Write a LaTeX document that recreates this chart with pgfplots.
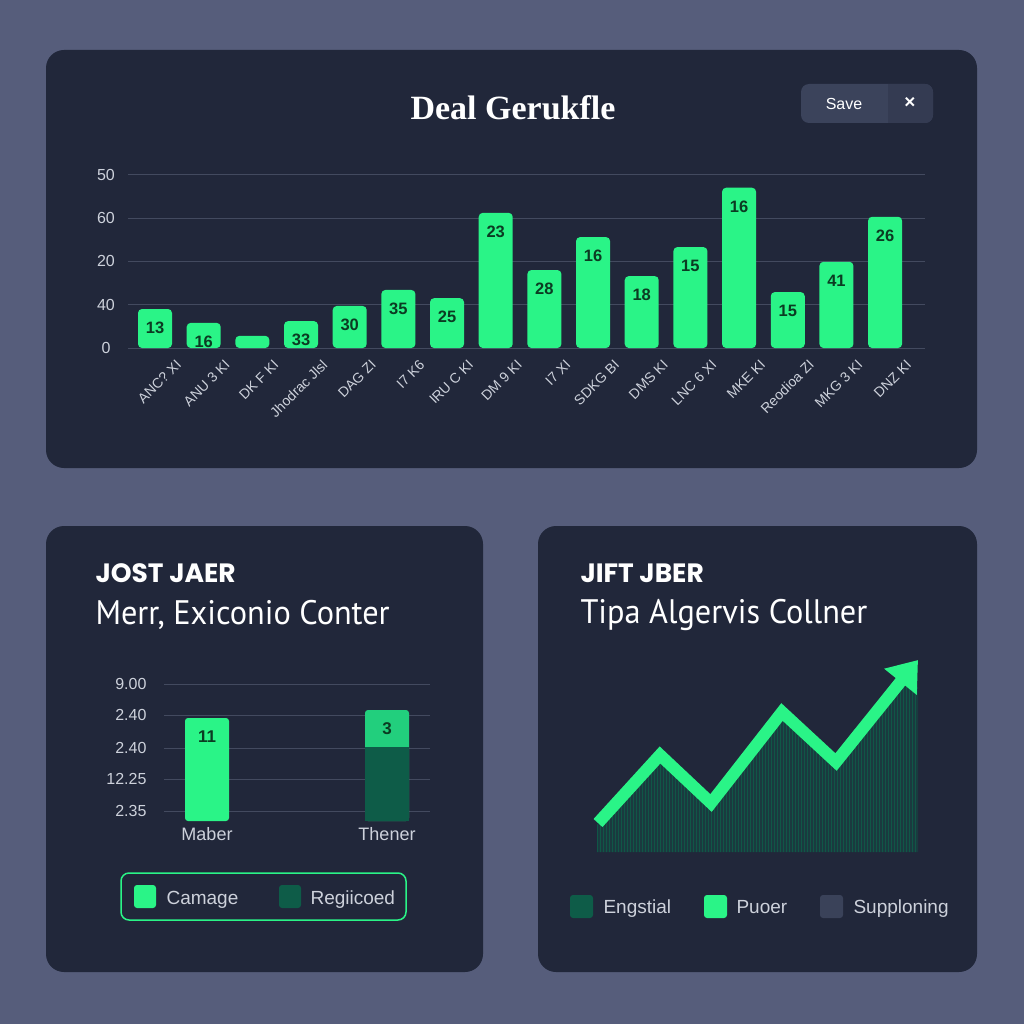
\documentclass[border=0pt]{standalone}
\usepackage{pgfplots}
\pgfplotsset{compat=1.18}
\usepackage{fontspec}
\setmainfont{Liberation Sans}
\newfontfamily\titlefont{Liberation Serif}
\newfontfamily\headfont{Poppins}
\newfontfamily\condfont{PT Sans}[FakeStretch=0.95]
\usetikzlibrary{arrows.meta,patterns}
\definecolor{bgc}{HTML}{565D7B}
\definecolor{panel}{HTML}{21273A}
\definecolor{gridc}{HTML}{434A5F}
\definecolor{grn}{HTML}{2AF487}
\definecolor{grnmid}{HTML}{22CF7D}
\definecolor{dgrn}{HTML}{0E5C48}
\definecolor{lab}{HTML}{0B3B22}
\definecolor{tickc}{HTML}{CDD1DB}
\definecolor{btn}{HTML}{3B435B}
\definecolor{btnx}{HTML}{343B52}
\definecolor{slate}{HTML}{3A4259}
\begin{document}
\begin{tikzpicture}
\begin{scope}[x=1pt,y=-1pt]
\fill[bgc] (0,0) rectangle (1024,1024);
\fill[panel, rounded corners=18pt] (46,50) rectangle (977,468);
\fill[panel, rounded corners=18pt] (46,526) rectangle (483,972);
\fill[panel, rounded corners=18pt] (538,526) rectangle (977,972);
\node[font=\titlefont\bfseries\fontsize{34}{40}\selectfont, text=white] at (513,108) {Deal Gerukfle};
\fill[btn, rounded corners=8pt] (801,84) rectangle (933,123);
\begin{scope}
\clip[rounded corners=8pt] (801,84) rectangle (933,123);
\fill[btnx] (888,84) rectangle (933,123);
\end{scope}
\node[font=\fontsize{16}{19}\selectfont, text=white] at (844,104) {Save};
\node[font=\bfseries\fontsize{19}{20}\selectfont, text=white] at (910,103) {×};
\node[anchor=west, font=\headfont\bfseries\fontsize{26.5}{30}\selectfont, text=white] at (92,573) {JOST JAER};
\node[anchor=west, font=\condfont\fontsize{34}{40}\selectfont, text=white] at (92,615) {Merr, Exiconio Conter};
\node[anchor=west, font=\headfont\bfseries\fontsize{26.5}{30}\selectfont, text=white] at (577,573) {JIFT JBER};
\node[anchor=west, font=\condfont\fontsize{34}{40}\selectfont, text=white] at (577,615) {Tipa Algervis Collner};
% legend left
\draw[grn, line width=1.5pt, rounded corners=8pt] (121,873) rectangle (406,920);
\fill[grn, rounded corners=3pt] (134,885) rectangle (156,908);
\node[anchor=base west, font=\fontsize{19}{22}\selectfont, text=tickc] at (163,904) {Camage};
\fill[dgrn, rounded corners=3pt] (279,885) rectangle (301,908);
\node[anchor=base west, font=\fontsize{19}{22}\selectfont, text=tickc] at (307,904) {Regiicoed};
% legend right
\fill[dgrn, rounded corners=3pt] (570,895) rectangle (593,918);
\node[anchor=base west, font=\fontsize{19}{22}\selectfont, text=tickc] at (600,913) {Engstial};
\fill[grn, rounded corners=3pt] (704,895) rectangle (727,918);
\node[anchor=base west, font=\fontsize{19}{22}\selectfont, text=tickc] at (733,913) {Puoer};
\fill[slate, rounded corners=3pt] (820,895) rectangle (843,918);
\node[anchor=base west, font=\fontsize{19}{22}\selectfont, text=tickc] at (850,913) {Supploning};
\end{scope}

% top bar chart
\begin{axis}[at={(128pt,-348pt)}, anchor=south west, scale only axis,
  width=797pt, height=175pt,
  xmin=-0.555, xmax=15.82, ymin=0, ymax=4.04,
  ytick={0,1,2,3,4}, yticklabels={0,40,20,60,50},
  xtick={0,...,15},
  xticklabels={ANC? XI, ANU 3 KI, DK F KI, Jhodrac Jlsl, DAG ZI, I7 K6, IRU C KI, DM 9 KI, I7 XI, SDKG BI, DMS KI, LNC 6 XI, MKE KI, Reodioa ZI, MKG 3 KI, DNZ KI},
  ymajorgrids, grid style={color=gridc, line width=1pt},
  axis line style={draw=none}, tick style={draw=none},
  yticklabel style={font=\fontsize{16}{18}\selectfont, text=tickc, anchor=center, xshift=-22pt},
  xticklabel style={font=\fontsize{14}{16}\selectfont, text=tickc, rotate=45, anchor=east, xshift=10pt, yshift=-27pt},
  /pgf/number format/assume math mode=true,
  clip=false]
\addplot[ybar, bar width=34pt, bar shift=0pt, fill=grn, draw=none, rounded corners=4pt,
  point meta=explicit symbolic,
  nodes near coords, every node near coord/.append style={anchor=center, yshift=-19pt, text=lab, font=\bfseries\fontsize{16.5}{18}\selectfont}]
coordinates {(0,0.90)[13] (1,0.58)[16] (3,0.62)[33] (4,0.97)[30] (5,1.34)[35] (6,1.15)[25] (7,3.12)[23] (8,1.80)[28] (9,2.56)[16] (10,1.66)[18] (11,2.33)[15] (12,3.70)[16] (13,1.29)[15] (14,1.99)[41] (15,3.03)[26]};
\addplot[ybar, bar width=34pt, bar shift=0pt, fill=grn, draw=none, rounded corners=4pt]
coordinates {(2,0.28)};
\end{axis}

% bottom-left bars
\begin{axis}[at={(164pt,-821pt)}, anchor=south west, scale only axis,
  width=266pt, height=139pt,
  xmin=0, xmax=266, ymin=0, ymax=139,
  ytick={10,42,73,106,137}, yticklabels={2.35,12.25,2.40,2.40,9.00},
  xtick={43,223}, xticklabels={Maber,Thener},
  ymajorgrids, grid style={color=gridc, line width=1pt},
  axis line style={draw=none}, tick style={draw=none},
  yticklabel style={font=\fontsize{16}{18}\selectfont, text=tickc, xshift=-14pt},
  xticklabel style={font=\fontsize{18}{20}\selectfont, text=tickc, yshift=-3pt},
  /pgf/number format/assume math mode=true,
  clip=false]
\addplot[ybar, bar width=44pt, bar shift=0pt, fill=grn, draw=none, rounded corners=3pt, point meta=explicit symbolic,
  nodes near coords, every node near coord/.append style={anchor=center, yshift=-19pt, text=lab, font=\bfseries\fontsize{17}{19}\selectfont}]
  coordinates {(43,103)[11]};
\addplot[ybar, bar width=44pt, bar shift=0pt, fill=grnmid, draw=none, rounded corners=3pt, point meta=explicit symbolic,
  nodes near coords, every node near coord/.append style={anchor=center, yshift=-19pt, text=lab, font=\bfseries\fontsize{17}{19}\selectfont}]
  coordinates {(223,111)[3]};
\addplot[ybar, bar width=44pt, bar shift=0pt, fill=dgrn, draw=none]
  coordinates {(223,74)};
\end{axis}

% bottom-right line chart
\begin{axis}[at={(597pt,-852pt)}, anchor=south west, scale only axis,
  width=321pt, height=192pt,
  xmin=0, xmax=321, ymin=0, ymax=192,
  hide axis, clip=false]
\addplot[draw=none, fill=dgrn!35!panel, postaction={pattern=vertical lines, pattern color=dgrn!90!panel}]
  coordinates {(0,27) (63,97) (114,49) (185,140) (239,90) (305,165) (321,165)} \closedcycle;
\addplot[grn, line width=12pt, -{Triangle[length=28pt,width=40pt]}]
  coordinates {(1,29) (63,97) (114,49) (185,140) (239,90) (321,192)};
\end{axis}
\end{tikzpicture}
\end{document}
